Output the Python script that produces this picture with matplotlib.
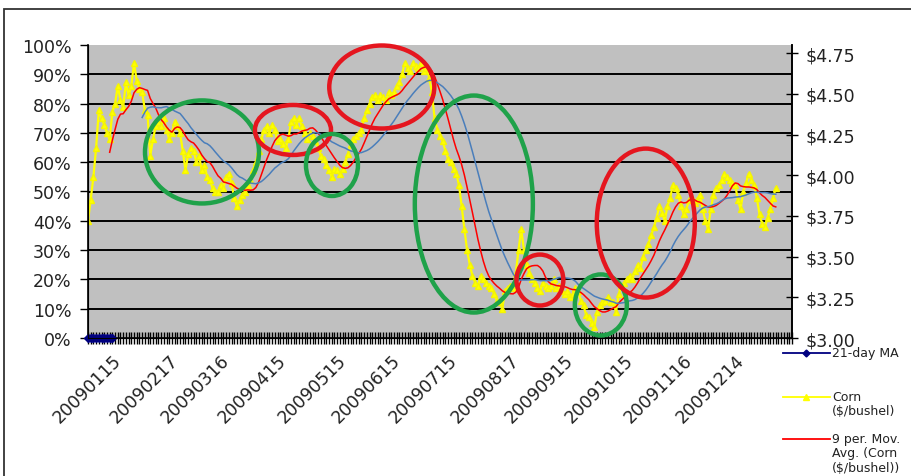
import numpy as np
import pandas as pd
import matplotlib
matplotlib.use("Agg")
import matplotlib.pyplot as plt
from matplotlib.patches import Ellipse, Rectangle
from matplotlib.lines import Line2D
from matplotlib.ticker import PercentFormatter, FixedLocator, MultipleLocator, FuncFormatter

plt.rcParams['font.family'] = ['DejaVu Sans']

# CBOT trading sessions covered by the sheet
session_start = "2009-01-02"
session_end = "2010-01-06"
exchange_holidays = ["2009-01-19", "2009-02-16", "2009-04-10", "2009-05-25",
                     "2009-07-03", "2009-09-07", "2009-11-26", "2009-12-25",
                     "2010-01-01"]

# rows of the date column that carry a label
label_dates = ["20090115", "20090217", "20090316", "20090415", "20090515",
               "20090615", "20090715", "20090817", "20090915", "20091015",
               "20091116", "20091214"]

# daily corn settlement, $/bushel
corn_price = [
    3.72, 3.85, 3.99, 4.17, 4.40, 4.35, 4.31, 4.26, 4.22, 4.39,
    4.44, 4.55, 4.46, 4.42, 4.57, 4.49, 4.55, 4.69, 4.58, 4.53,
    4.51, 4.40, 4.37, 4.12, 4.22, 4.30, 4.33, 4.30, 4.35, 4.28,
    4.22, 4.26, 4.33, 4.30, 4.26, 4.15, 4.03, 4.13, 4.17, 4.15,
    4.08, 4.12, 4.03, 4.06, 3.99, 3.97, 3.92, 3.90, 3.90, 3.94,
    3.92, 3.99, 4.01, 3.95, 3.86, 3.81, 3.85, 3.88, 3.90, 3.94,
    3.97, 4.03, 4.08, 4.15, 4.22, 4.28, 4.30, 4.26, 4.31, 4.28,
    4.21, 4.22, 4.19, 4.17, 4.22, 4.33, 4.35, 4.31, 4.35, 4.30,
    4.26, 4.22, 4.26, 4.24, 4.21, 4.17, 4.12, 4.10, 4.06, 4.03,
    3.99, 4.04, 4.03, 4.01, 4.04, 4.08, 4.13, 4.19, 4.22, 4.24,
    4.26, 4.28, 4.35, 4.40, 4.44, 4.48, 4.49, 4.46, 4.49, 4.48,
    4.46, 4.51, 4.49, 4.51, 4.55, 4.57, 4.62, 4.69, 4.66, 4.64,
    4.69, 4.67, 4.66, 4.69, 4.64, 4.66, 4.60, 4.51, 4.35, 4.28,
    4.24, 4.21, 4.15, 4.10, 4.08, 4.04, 4.01, 3.94, 3.81, 3.67,
    3.54, 3.45, 3.38, 3.34, 3.32, 3.38, 3.36, 3.34, 3.32, 3.31,
    3.27, 3.23, 3.22, 3.18, 3.29, 3.31, 3.32, 3.31, 3.40, 3.54,
    3.67, 3.54, 3.45, 3.40, 3.36, 3.34, 3.31, 3.29, 3.34, 3.32,
    3.31, 3.32, 3.36, 3.31, 3.32, 3.29, 3.27, 3.29, 3.25, 3.27,
    3.31, 3.29, 3.23, 3.20, 3.14, 3.13, 3.09, 3.07, 3.16, 3.20,
    3.22, 3.23, 3.25, 3.22, 3.22, 3.16, 3.27, 3.32, 3.34, 3.36,
    3.38, 3.36, 3.41, 3.45, 3.43, 3.50, 3.54, 3.58, 3.63, 3.68,
    3.74, 3.81, 3.77, 3.72, 3.81, 3.86, 3.94, 3.92, 3.88, 3.81,
    3.76, 3.79, 3.85, 3.86, 3.83, 3.85, 3.88, 3.79, 3.72, 3.67,
    3.79, 3.88, 3.92, 3.94, 3.97, 4.01, 3.99, 3.97, 3.95, 3.94,
    3.85, 3.79, 3.90, 3.95, 4.01, 3.97, 3.94, 3.86, 3.76, 3.70,
    3.68, 3.74, 3.79, 3.86, 3.92,
]

# "21-day MA" column (primary axis), only the leading blank-history rows register
ma21_day = [0, 0, 0, 0, 0, 0, 0, 0, 0, 0]

series_names = ["21-day MA", "Corn\n($/bushel)", "9 per. Mov.\nAvg. (Corn\n($/bushel))"]

price_ticks = [3.00, 3.25, 3.50, 3.75, 4.00, 4.25, 4.50, 4.75]

# ------------------------------------------------------------------
sessions = pd.bdate_range(session_start, session_end, freq="C",
                          holidays=exchange_holidays)
session_labels = [d.strftime("%Y%m%d") for d in sessions]
label_pos = [session_labels.index(d) for d in label_dates]

corn = pd.Series(corn_price)
x = np.arange(len(corn))
ma9 = corn.rolling(9).mean()
ma21 = corn.rolling(21).mean()

W, H = 912, 477
fig = plt.figure(figsize=(W / 100, H / 100), dpi=100)
fig.patch.set_facecolor("white")


def px_box(l, t, r, b):
    return [l / W, 1 - b / H, (r - l) / W, (b - t) / H]


ax = fig.add_axes(px_box(88, 46, 792, 339))
ax.set_facecolor("#C0C0C0")
ax.set_xlim(0, 260)
ax.set_ylim(0, 1)
ax.yaxis.set_major_locator(MultipleLocator(0.1))
ax.yaxis.set_major_formatter(PercentFormatter(1.0, decimals=0))
for v in np.arange(0.1, 0.95, 0.1):
    ax.axhline(v, color="black", lw=1.4, zorder=0.5)

ax.plot(x[:len(ma21_day)], ma21_day, color="#000080", marker="D", ms=4,
        lw=1.5, clip_on=False, zorder=3)

ax.set_xticks(label_pos)
ax.set_xticklabels(label_dates, rotation=45, ha="right", va="top",
                   rotation_mode="anchor")
ax.xaxis.set_minor_locator(FixedLocator(np.arange(0, 261)))
ax.tick_params(axis="x", which="both", direction="inout", length=9, width=1.0,
               color="black", pad=5, labelsize=12.5, labelcolor="#222222")
ax.tick_params(axis="y", direction="out", length=6, width=1.0, pad=6,
               labelsize=12.5, labelcolor="#222222")

for side in ("left", "bottom", "right"):
    ax.spines[side].set_color("black")
    ax.spines[side].set_linewidth(1.2)
ax.spines["top"].set_visible(False)

ax2 = ax.twinx()
ax2.set_ylim(3.0, 4.8)
ax2.yaxis.set_major_locator(FixedLocator(price_ticks))
ax2.yaxis.set_major_formatter(FuncFormatter(lambda v, p: f"${v:.2f}"))
ax2.tick_params(axis="y", direction="inout", length=8, width=1.0, pad=6,
                labelsize=12.5, labelcolor="#222222")
ax2.spines["top"].set_visible(False)
ax2.spines["right"].set_linewidth(1.2)

ax2.plot(x, corn, color="#FFFF00", lw=1.6, marker="^", ms=5,
         mec="#F5F500", mfc="#FFFF00", zorder=2)
ax2.plot(x, ma9, color="#FF0000", lw=1.1, zorder=3)
ax2.plot(x, ma21, color="#4A7EBB", lw=1.1, zorder=3)

# highlight rings (centre index, centre $, width in sessions, height in $)
rings = [
    ((42.1, 4.143), 42.1, 0.633, "#1FA24A"),
    ((75.7, 4.278), 28.1, 0.307, "#E5161F"),
    ((90.1, 4.063), 19.2, 0.381, "#1FA24A"),
    ((108.5, 4.542), 38.8, 0.510, "#E5161F"),
    ((142.5, 3.823), 43.6, 1.333, "#1FA24A"),
    ((166.9, 3.356), 17.3, 0.313, "#E5161F"),
    ((189.4, 3.203), 19.2, 0.375, "#1FA24A"),
    ((206.0, 3.706), 36.2, 0.915, "#E5161F"),
]
for (cxy, w, h, col) in rings:
    ax2.add_patch(Ellipse(cxy, w, h, fill=False, ec=col, lw=3.2,
                          clip_on=False, zorder=10))

# chart-area frame
fig.add_artist(Rectangle((4 / W, -0.1), 1.2, (H - 10) / H + 0.1,
                         transform=fig.transFigure, fill=False,
                         ec="#333333", lw=1.3))

# legend column on the right
legend_rows = [
    (series_names[0], "#000080", "D", 354, 3.5),
    (series_names[1], "#FFFF00", "^", 398, 5),
    (series_names[2], "#FF0000", None, 440, 0),
]
for name, col, mk, ypx, ms in legend_rows:
    yf = 1 - ypx / H
    fig.add_artist(Line2D([783 / W, 830 / W], [yf, yf], transform=fig.transFigure,
                          color=col, lw=1.3))
    if mk:
        fig.add_artist(Line2D([806 / W], [yf], transform=fig.transFigure,
                              color=col, marker=mk, ms=ms, lw=0))
    fig.text(832 / W, 1 - (ypx - 7) / H, name, fontsize=9, va="top", ha="left",
             color="#222222", linespacing=1.15)

fig.savefig("out.png", dpi=100)
